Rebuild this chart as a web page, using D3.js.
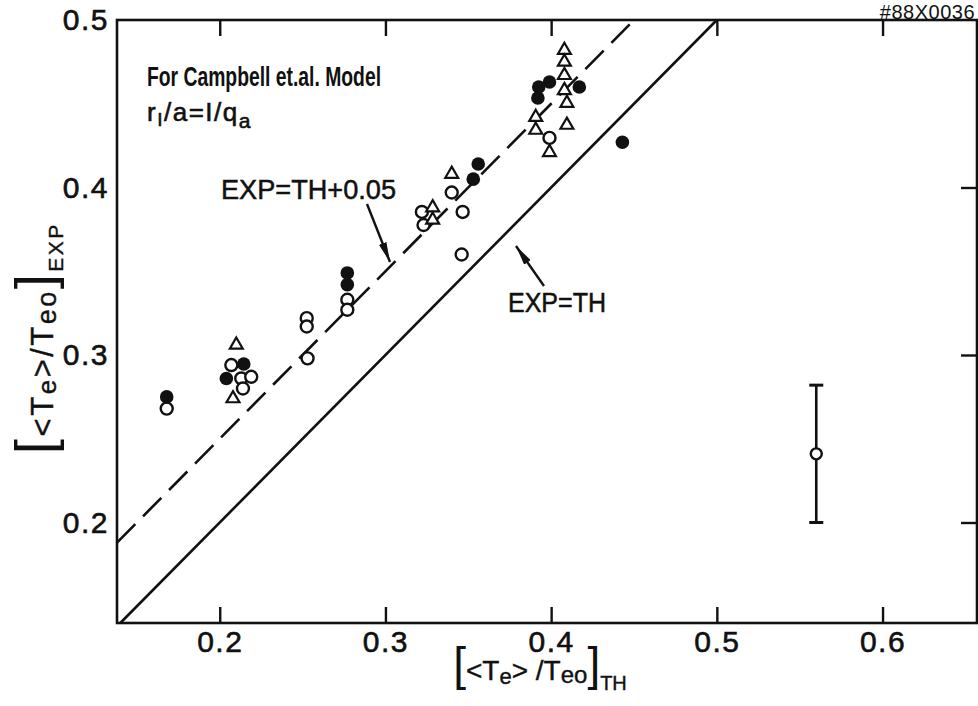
<!DOCTYPE html>
<html>
<head>
<meta charset="utf-8">
<script src="https://cdn.jsdelivr.net/npm/d3@7"></script>
<style>
  html, body { margin: 0; padding: 0; background: #fff; }
  svg { display: block; }
  text { font-family: "Liberation Sans", Arial, sans-serif; fill: #111; }
</style>
</head>
<body>
<svg id="chart" width="978" height="706"></svg>
<script>
// Theoretical vs experimental <Te>/Teo ratios (Campbell et al. model, r1/a = 1/qa)
const filledTH  = [0.168, 0.204, 0.2145, 0.277, 0.277, 0.353, 0.356, 0.392, 0.3925, 0.399, 0.417, 0.443];
const filledEXP = [0.275, 0.286, 0.2946, 0.349, 0.342, 0.405, 0.414, 0.4534, 0.460, 0.463, 0.460, 0.427];

const openTH  = [0.168, 0.207, 0.213, 0.219, 0.214, 0.253, 0.2525, 0.2525, 0.277, 0.277, 0.322, 0.323, 0.340, 0.3466, 0.346, 0.399];
const openEXP = [0.268, 0.294, 0.286, 0.287, 0.280, 0.298, 0.322, 0.317, 0.333, 0.327, 0.3854, 0.3776, 0.397, 0.3854, 0.360, 0.4296];

const triTH  = [0.210, 0.208, 0.3285, 0.3285, 0.340, 0.3907, 0.3907, 0.399, 0.408, 0.408, 0.408, 0.408, 0.4095, 0.4095];
const triEXP = [0.306, 0.274, 0.388, 0.3806, 0.408, 0.442, 0.4343, 0.421, 0.482, 0.475, 0.467, 0.458, 0.4504, 0.4373];

// representative error bar
const errTH = [0.56];
const errEXP = [0.241];
const errLow = [0.200];
const errHigh = [0.282];

const xTicks = [0.2, 0.3, 0.4, 0.5, 0.6];
const yTicks = [0.2, 0.3, 0.4, 0.5];
const sideTicks = [0.2, 0.3, 0.4];

const offset = 0.05; // EXP = TH + 0.05

const svg = d3.select("#chart");
const plotL = 117, plotR = 977, plotT = 20, plotB = 623;

const x = d3.scaleLinear().domain([0.138, 0.657]).range([plotL, plotR]);
const y = d3.scaleLinear().domain([0.14, 0.5]).range([plotB, plotT]);
const fmt = d3.format(".1f");

// bottom axis: inward ticks with labels
const gx = svg.append("g").attr("transform", `translate(0,${plotB})`)
  .call(d3.axisBottom(x).tickValues(xTicks).tickSize(-16).tickPadding(8).tickFormat(fmt));
// top axis: inward ticks only
const gt = svg.append("g").attr("transform", `translate(0,${plotT})`)
  .call(d3.axisTop(x).tickValues(xTicks).tickSize(-16).tickFormat(""));
// left axis: labels only
const gy = svg.append("g").attr("transform", `translate(${plotL},0)`)
  .call(d3.axisLeft(y).tickValues(yTicks).tickSize(0).tickPadding(8).tickFormat(fmt));
// right axis: inward ticks only
const gr = svg.append("g").attr("transform", `translate(${plotR},0)`)
  .call(d3.axisRight(y).tickValues(sideTicks).tickSize(-16).tickFormat(""));

[gx, gt, gy, gr].forEach(g => {
  g.select(".domain").remove();
  g.selectAll(".tick line").attr("stroke", "#111").attr("stroke-width", 2.4);
  g.selectAll(".tick text")
    .style("font-size", "30px").style("letter-spacing", "1.5px")
    .style("font-family", "Liberation Sans, Arial, sans-serif")
    .attr("fill", "#111").attr("stroke", "#111").attr("stroke-width", 0.6);
});

// frame
svg.append("rect")
  .attr("x", plotL).attr("y", plotT)
  .attr("width", plotR - plotL).attr("height", plotB - plotT)
  .attr("fill", "none").attr("stroke", "#111").attr("stroke-width", 2.6);

// EXP = TH line
const lo = Math.max(x.domain()[0], y.domain()[0]);
svg.append("line")
  .attr("x1", x(lo)).attr("y1", y(lo))
  .attr("x2", x(0.5)).attr("y2", y(0.5))
  .attr("stroke", "#111").attr("stroke-width", 2.6);

// EXP = TH + 0.05 line
const x0 = x.domain()[0];
svg.append("line")
  .attr("x1", x(x0)).attr("y1", y(x0 + offset))
  .attr("x2", x(0.5 - offset)).attr("y2", y(0.5))
  .attr("stroke", "#111").attr("stroke-width", 2.6)
  .attr("stroke-dasharray", "26,11");

// markers
svg.append("g").selectAll("circle").data(openTH)
  .join("circle")
  .attr("cx", d => x(d)).attr("cy", (d, i) => y(openEXP[i])).attr("r", 6)
  .attr("fill", "#fff").attr("stroke", "#111").attr("stroke-width", 2.4);

svg.append("g").selectAll("circle").data(filledTH)
  .join("circle")
  .attr("cx", d => x(d)).attr("cy", (d, i) => y(filledEXP[i])).attr("r", 6.8)
  .attr("fill", "#111");

const tri = d3.symbol().type(d3.symbolTriangle).size(72);
svg.append("g").selectAll("path").data(triTH)
  .join("path")
  .attr("d", tri)
  .attr("transform", (d, i) => `translate(${x(d)},${y(triEXP[i])})`)
  .attr("fill", "#fff").attr("stroke", "#111").attr("stroke-width", 2.2);

// error bar
const eb = svg.append("g");
errTH.forEach((t, i) => {
  eb.append("line").attr("x1", x(t)).attr("x2", x(t)).attr("y1", y(errLow[i])).attr("y2", y(errHigh[i]))
    .attr("stroke", "#111").attr("stroke-width", 2.6);
  [errLow[i], errHigh[i]].forEach(v => {
    eb.append("line").attr("x1", x(t) - 7).attr("x2", x(t) + 7).attr("y1", y(v)).attr("y2", y(v))
      .attr("stroke", "#111").attr("stroke-width", 3);
  });
  eb.append("circle").attr("cx", x(t)).attr("cy", y(errEXP[i])).attr("r", 5.5)
    .attr("fill", "#fff").attr("stroke", "#111").attr("stroke-width", 2.4);
});

// arrowheads
const defs = svg.append("defs");
defs.append("marker").attr("id", "arrow").attr("viewBox", "0 0 20 8")
  .attr("refX", 20).attr("refY", 4).attr("markerWidth", 20).attr("markerHeight", 8)
  .attr("markerUnits", "userSpaceOnUse").attr("orient", "auto")
  .append("path").attr("d", "M0,0 L20,4 L0,8 Z").attr("fill", "#111");

// annotations
svg.append("text").attr("x", 147).attr("y", 86)
  .style("font-size", "27px").style("font-weight", "bold")
  .attr("textLength", 234).attr("lengthAdjust", "spacingAndGlyphs")
  .text("For Campbell et.al. Model");

const rt = svg.append("text").attr("x", 147).attr("y", 121)
  .style("font-size", "26px").style("letter-spacing", "1.5px")
  .attr("stroke", "#111").attr("stroke-width", 0.6);
rt.append("tspan").text("r");
rt.append("tspan").attr("dy", 5).style("font-size", "19px").text("I");
rt.append("tspan").attr("dy", -5).text("/a=I/q");
rt.append("tspan").attr("dy", 7).style("font-size", "21px").text("a");

svg.append("text").attr("x", 221).attr("y", 199)
  .style("font-size", "27px")
  .attr("stroke", "#111").attr("stroke-width", 0.5)
  .attr("textLength", 175).attr("lengthAdjust", "spacingAndGlyphs")
  .text("EXP=TH+0.05");
svg.append("line").attr("x1", 367).attr("y1", 204).attr("x2", 390).attr("y2", 262)
  .attr("stroke", "#111").attr("stroke-width", 2.4).attr("marker-end", "url(#arrow)");

svg.append("text").attr("x", 508).attr("y", 312)
  .style("font-size", "27px")
  .attr("stroke", "#111").attr("stroke-width", 0.5)
  .attr("textLength", 98).attr("lengthAdjust", "spacingAndGlyphs")
  .text("EXP=TH");
svg.append("line").attr("x1", 544).attr("y1", 286).attr("x2", 516).attr("y2", 246)
  .attr("stroke", "#111").attr("stroke-width", 2.4).attr("marker-end", "url(#arrow)");

// figure id
svg.append("text").attr("x", 975).attr("y", 19).attr("text-anchor", "end")
  .style("font-size", "20px").style("letter-spacing", "0.5px")
  .text("#88X0036");

// x-axis title
const xt = svg.append("text").attr("x", 540).attr("y", 680).attr("text-anchor", "middle")
  .style("font-size", "28px").attr("stroke", "#111").attr("stroke-width", 0.4);
xt.append("tspan").style("font-size", "46px").attr("stroke-width", 0).text("[");
xt.append("tspan").text("<T");
xt.append("tspan").attr("dy", 4).style("font-size", "22px").text("e");
xt.append("tspan").attr("dy", -4).text("> /T");
xt.append("tspan").attr("dy", 3).style("font-size", "24px").text("eo");
xt.append("tspan").attr("dy", -3).style("font-size", "46px").attr("stroke-width", 0).text("]");
xt.append("tspan").attr("dy", 10).style("font-size", "20px").text("TH");

// y-axis title
const yt = svg.append("text").attr("transform", "translate(53,338) rotate(-90)")
  .attr("text-anchor", "middle").style("font-size", "31px").style("letter-spacing", "2.5px")
  .attr("stroke", "#111").attr("stroke-width", 0.4);
yt.append("tspan").style("font-size", "54px").attr("stroke-width", 0).text("[");
yt.append("tspan").text("<T");
yt.append("tspan").attr("dy", 3).style("font-size", "26px").text("e");
yt.append("tspan").attr("dy", -3).text(">/T");
yt.append("tspan").attr("dy", 3).style("font-size", "27px").text("eo");
yt.append("tspan").attr("dy", -3).style("font-size", "54px").attr("stroke-width", 0).text("]");
yt.append("tspan").attr("dy", 10).style("font-size", "21px").text("EXP");
</script>
</body>
</html>
